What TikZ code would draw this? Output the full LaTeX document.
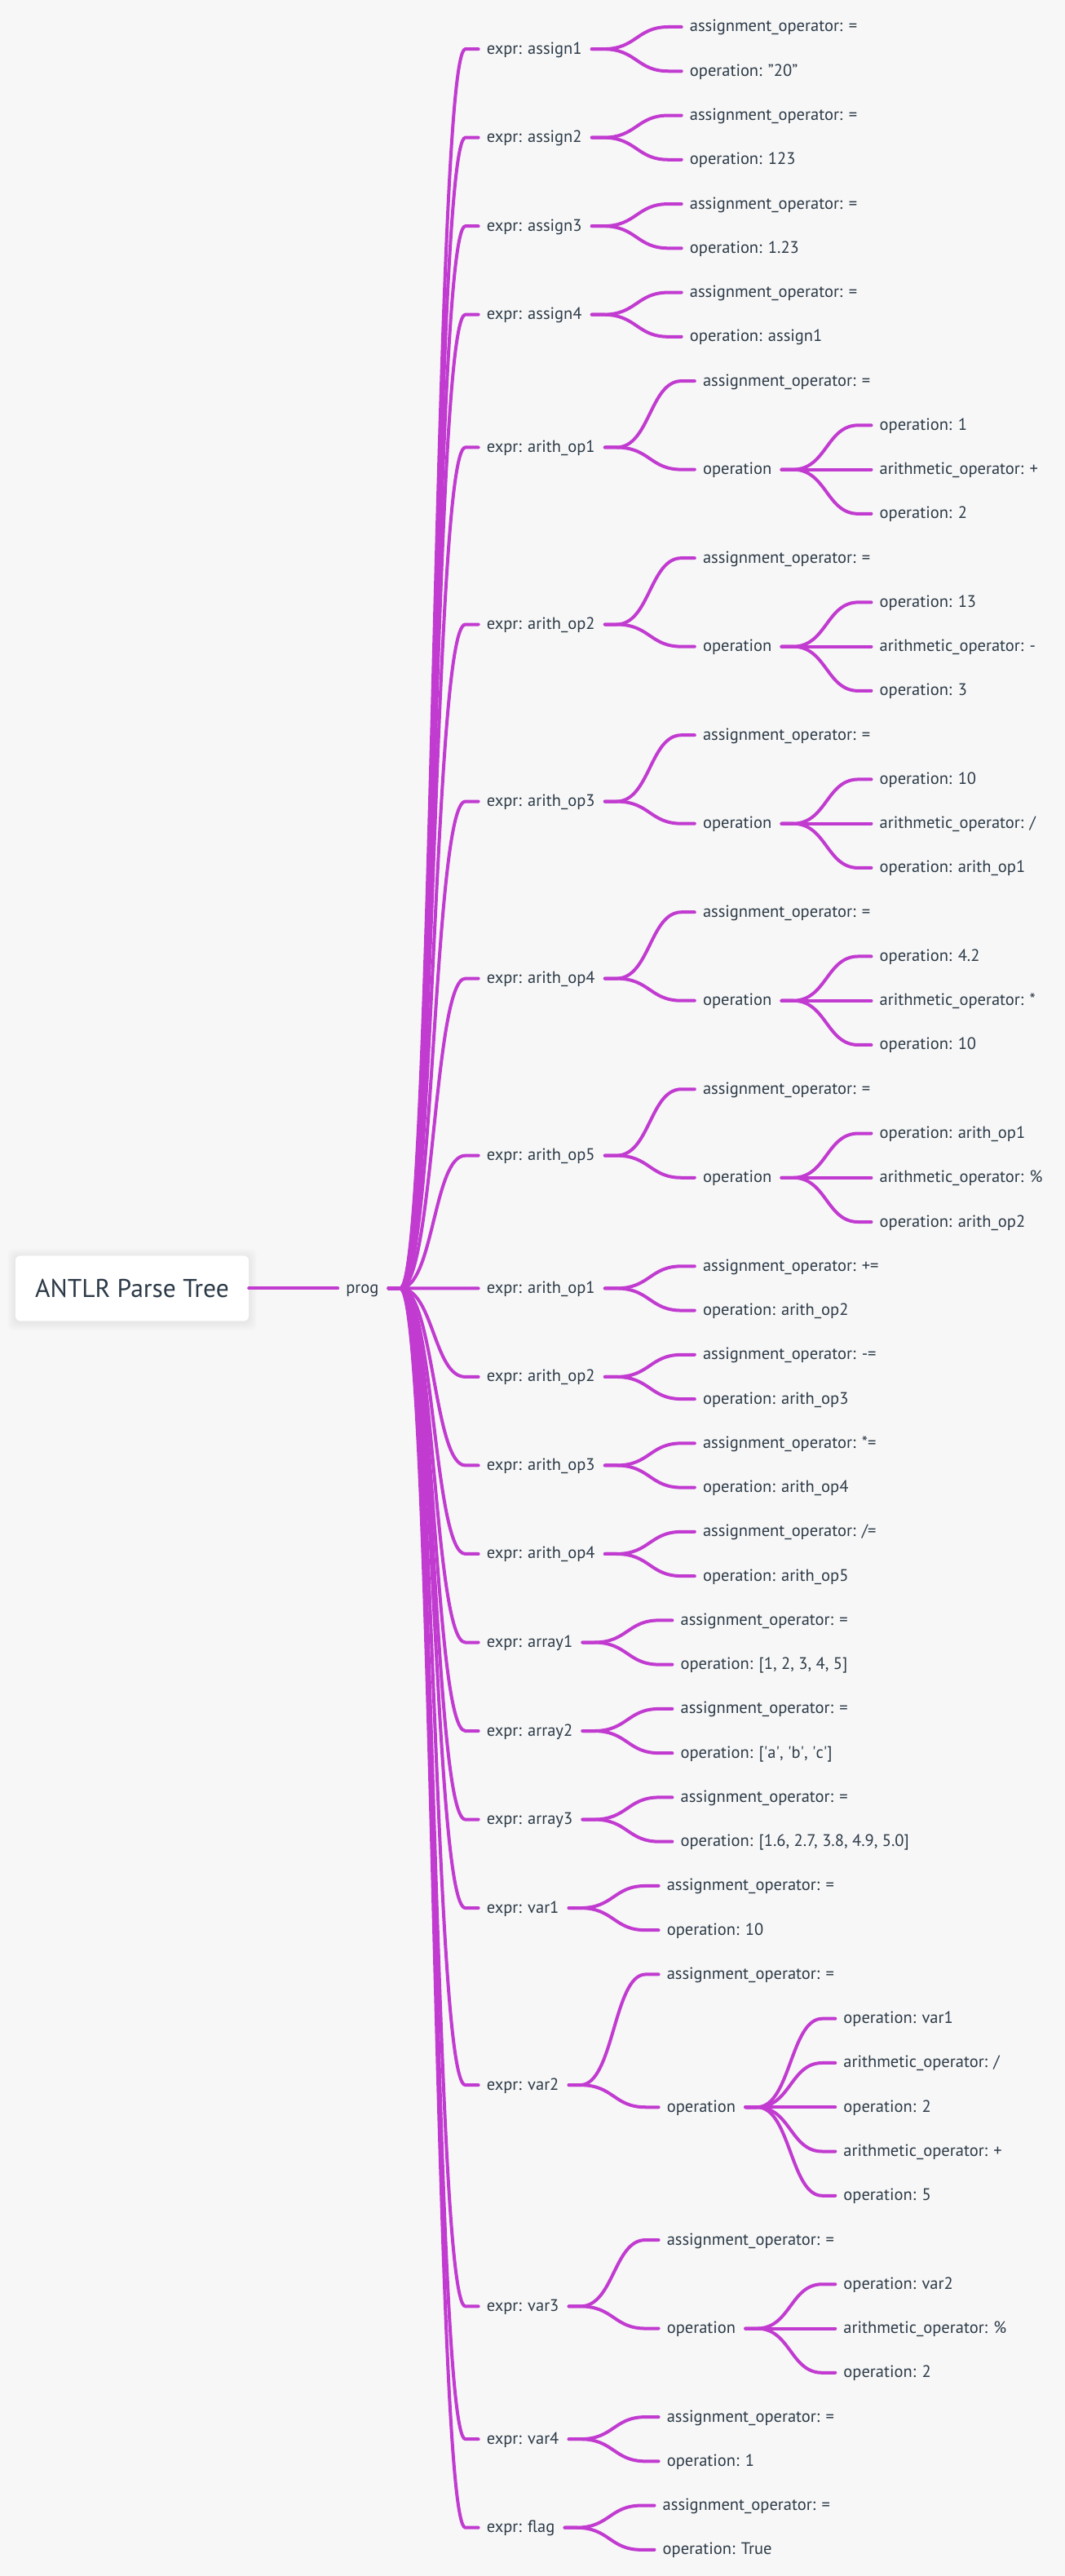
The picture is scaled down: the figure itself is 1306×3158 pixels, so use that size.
\documentclass[tikz,border=0pt]{standalone}
\usepackage{fontspec}
\setmainfont{PT Sans}
\usetikzlibrary{calc}
\definecolor{paper}{HTML}{F7F7F7}
\definecolor{twigcol}{HTML}{C13BD0}
\definecolor{inkcol}{HTML}{2C3A47}
\tikzstyle{word}=[
        inner sep=0pt, anchor=west, text=inkcol,
        font=\fontsize{20.5}{24}\selectfont, text height=15pt, text depth=3pt
]
\tikzstyle{titlebox}=[
        fill=white, rounded corners=6pt, minimum width=286pt, minimum height=80pt,
        inner sep=0pt, text=inkcol, font=\fontsize{31.5}{38}\selectfont
]
\tikzstyle{twig}=[
        draw=twigcol, line width=4pt, line cap=round
]
% node #1 hangs right of #2, on leaf row #3
\newcommand{\word}[4]{%
  \pgfmathsetmacro{\wy}{33+54.26*#3}%
  \node[word] (#1) at ([xshift=132pt]#2.east |- 0,\wy) {#4};}
% curved connector from #1 to #2
\newcommand{\conn}[2]{%
  \draw[twig] let \p1=([xshift=12pt]#1.east), \p2=([xshift=-10pt]#2.west),
        \p3=($(\p1)!0.5!(\p2)$) in
        (\p1) -- (\x1+14pt,\y1) .. controls (\x3,\y1) and (\x3,\y2) .. (\x2-16pt,\y2) -- (\p2);}

\begin{document}
\begin{tikzpicture}[x=1pt,y=-1pt]
                        \useasboundingbox[fill=paper] (0,0) rectangle (1306,3158);

                        % soft shadow of the title card
                        \foreach \s in {2,4,...,10} {
                            \fill[black, opacity=0.012, rounded corners=8pt] (19-\s,1541-\s) rectangle (305+\s,1621+\s);
                        }
                        \node[titlebox] (title) at (162,1579.4) {ANTLR Parse Tree};
                        \node[word] (prog) at ([xshift=119pt]title.east) {prog};
                        \draw[twig] (title.east) -- ([xshift=-10pt]prog.west);

                        \foreach \i/\r/\t in {1/0.5/assign1, 2/2.5/assign2, 3/4.5/assign3, 4/6.5/assign4,
                                5/9.5/arith\_op1, 6/13.5/arith\_op2, 7/17.5/arith\_op3, 8/21.5/arith\_op4,
                                9/25.5/arith\_op5, 10/28.5/arith\_op1, 11/30.5/arith\_op2, 12/32.5/arith\_op3,
                                13/34.5/arith\_op4, 14/36.5/array1, 15/38.5/array2, 16/40.5/array3,
                                17/42.5/var1, 18/46.5/var2, 19/51.5/var3, 20/54.5/var4, 21/56.5/flag} {
                            \word{x\i}{prog}{\r}{expr: \t}
                        }

                        \word{a1}{x1}{0}{assignment\_operator: =}
                        \word{b1}{x1}{1}{operation: "20"}
                        \word{a2}{x2}{2}{assignment\_operator: =}
                        \word{b2}{x2}{3}{operation: 123}
                        \word{a3}{x3}{4}{assignment\_operator: =}
                        \word{b3}{x3}{5}{operation: 1.23}
                        \word{a4}{x4}{6}{assignment\_operator: =}
                        \word{b4}{x4}{7}{operation: assign1}

                        \word{a5}{x5}{8}{assignment\_operator: =}
                        \word{b5}{x5}{10}{operation}
                        \word{b5-1}{b5}{9}{operation: 1}
                        \word{b5-2}{b5}{10}{arithmetic\_operator: +}
                        \word{b5-3}{b5}{11}{operation: 2}

                        \word{a6}{x6}{12}{assignment\_operator: =}
                        \word{b6}{x6}{14}{operation}
                        \word{b6-1}{b6}{13}{operation: 13}
                        \word{b6-2}{b6}{14}{arithmetic\_operator: -}
                        \word{b6-3}{b6}{15}{operation: 3}

                        \word{a7}{x7}{16}{assignment\_operator: =}
                        \word{b7}{x7}{18}{operation}
                        \word{b7-1}{b7}{17}{operation: 10}
                        \word{b7-2}{b7}{18}{arithmetic\_operator: /}
                        \word{b7-3}{b7}{19}{operation: arith\_op1}

                        \word{a8}{x8}{20}{assignment\_operator: =}
                        \word{b8}{x8}{22}{operation}
                        \word{b8-1}{b8}{21}{operation: 4.2}
                        \word{b8-2}{b8}{22}{arithmetic\_operator: *}
                        \word{b8-3}{b8}{23}{operation: 10}

                        \word{a9}{x9}{24}{assignment\_operator: =}
                        \word{b9}{x9}{26}{operation}
                        \word{b9-1}{b9}{25}{operation: arith\_op1}
                        \word{b9-2}{b9}{26}{arithmetic\_operator: \%}
                        \word{b9-3}{b9}{27}{operation: arith\_op2}

                        \word{a10}{x10}{28}{assignment\_operator: +=}
                        \word{b10}{x10}{29}{operation: arith\_op2}
                        \word{a11}{x11}{30}{assignment\_operator: -=}
                        \word{b11}{x11}{31}{operation: arith\_op3}
                        \word{a12}{x12}{32}{assignment\_operator: *=}
                        \word{b12}{x12}{33}{operation: arith\_op4}
                        \word{a13}{x13}{34}{assignment\_operator: /=}
                        \word{b13}{x13}{35}{operation: arith\_op5}

                        \word{a14}{x14}{36}{assignment\_operator: =}
                        \word{b14}{x14}{37}{operation: [1, 2, 3, 4, 5]}
                        \word{a15}{x15}{38}{assignment\_operator: =}
                        \word{b15}{x15}{39}{operation: [\textquotesingle a\textquotesingle, \textquotesingle b\textquotesingle, \textquotesingle c\textquotesingle]}
                        \word{a16}{x16}{40}{assignment\_operator: =}
                        \word{b16}{x16}{41}{operation: [1.6, 2.7, 3.8, 4.9, 5.0]}
                        \word{a17}{x17}{42}{assignment\_operator: =}
                        \word{b17}{x17}{43}{operation: 10}

                        \word{a18}{x18}{44}{assignment\_operator: =}
                        \word{b18}{x18}{47}{operation}
                        \word{b18-1}{b18}{45}{operation: var1}
                        \word{b18-2}{b18}{46}{arithmetic\_operator: /}
                        \word{b18-3}{b18}{47}{operation: 2}
                        \word{b18-4}{b18}{48}{arithmetic\_operator: +}
                        \word{b18-5}{b18}{49}{operation: 5}

                        \word{a19}{x19}{50}{assignment\_operator: =}
                        \word{b19}{x19}{52}{operation}
                        \word{b19-1}{b19}{51}{operation: var2}
                        \word{b19-2}{b19}{52}{arithmetic\_operator: \%}
                        \word{b19-3}{b19}{53}{operation: 2}

                        \word{a20}{x20}{54}{assignment\_operator: =}
                        \word{b20}{x20}{55}{operation: 1}
                        \word{a21}{x21}{56}{assignment\_operator: =}
                        \word{b21}{x21}{57}{operation: True}

                        % connectors
                        \foreach \i in {1,...,21} {
                            \conn{prog}{x\i}
                            \conn{x\i}{a\i}
                            \conn{x\i}{b\i}
                        }
                        \foreach \i in {5,...,9,19} {
                            \foreach \k in {1,2,3} {
                                \conn{b\i}{b\i-\k}
                            }
                        }
                        \foreach \k in {1,...,5} {
                            \conn{b18}{b18-\k}
                        }

                    \end{tikzpicture}
\end{document}
